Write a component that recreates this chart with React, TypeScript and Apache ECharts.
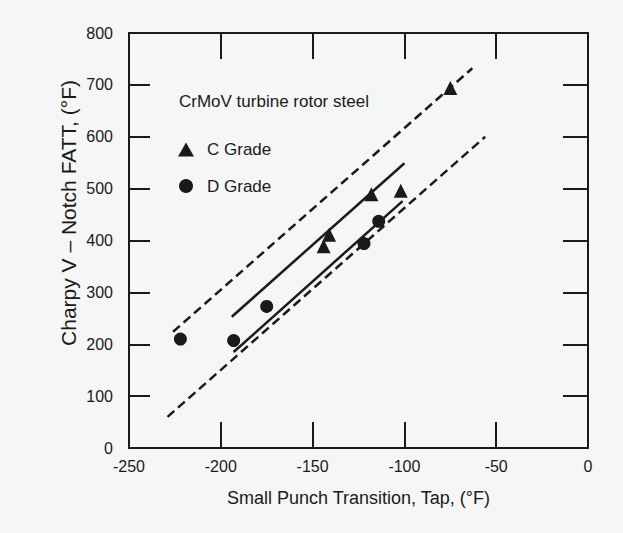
import React, { useEffect, useRef } from "react";
import * as echarts from "echarts";

const xTicks = [-250, -200, -150, -100, -50, 0];
const yTicks = [0, 100, 200, 300, 400, 500, 600, 700, 800];

const cGrade: [number, number][] = [
  [-75, 694],
  [-118, 489],
  [-102, 496],
  [-141, 411],
  [-144, 389],
];
const dGrade: [number, number][] = [
  [-222, 210],
  [-193, 207],
  [-175, 273],
  [-122, 394],
  [-114, 437],
];

const upperDashed: [number, number][] = [
  [-226, 224],
  [-63, 732],
];
const upperSolid: [number, number][] = [
  [-194, 253],
  [-100, 549],
];
const lowerSolid: [number, number][] = [
  [-193, 185],
  [-101, 476],
];
const lowerDashed: [number, number][] = [
  [-229, 60],
  [-56, 600],
];

const seriesNames = ["C Grade", "D Grade"];
const noteText = "CrMoV turbine rotor steel";
const xName = "Small Punch Transition, Tap, (°F)";
const yName = "Charpy V – Notch FATT, (°F)";

const FONT = "'Liberation Sans', Arial, Helvetica, sans-serif";
const INK = "#1a1a1a";

export default function App() {
  const ref = useRef<HTMLDivElement>(null);
  useEffect(() => {
    if (!ref.current) return;
    const chart = echarts.init(ref.current, null, { renderer: "svg" });
    const lineStyleAxis = { color: INK, width: 2 };
    const lineSeries = (data: [number, number][], dashed: boolean) => ({
      type: "line",
      data,
      showSymbol: false,
      symbol: "none",
      silent: true,
      lineStyle: {
        color: INK,
        width: 2.5,
        type: dashed ? [9, 5] : "solid",
      },
      z: 1,
    });
    chart.setOption({
      animation: false,
      backgroundColor: "#f6f6f6",
      textStyle: { fontFamily: FONT, color: INK },
      grid: { left: 129, right: 35, top: 33, bottom: 85, containLabel: false },
      graphic: [
        {
          type: "text",
          x: 179,
          y: 101,
          style: {
            text: noteText,
            fontSize: 17,
            fontFamily: FONT,
            fill: INK,
            align: "left",
            verticalAlign: "middle",
          },
        },
        {
          type: "text",
          x: 68,
          y: 213,
          rotation: Math.PI / 2,
          style: {
            text: yName,
            fontSize: 21,
            fontFamily: FONT,
            fill: INK,
            align: "center",
            verticalAlign: "middle",
          },
        },
      ],
      legend: {
        data: seriesNames,
        orient: "vertical",
        left: 173,
        top: 136,
        itemWidth: 16,
        itemHeight: 14,
        itemGap: 19.5,
        textStyle: { fontSize: 17, fontFamily: FONT, color: INK, padding: [0, 0, 0, 8] },
      },
      xAxis: [
        {
          type: "value",
          min: -250,
          max: 0,
          interval: 50,
          position: "bottom",
          name: xName,
          nameLocation: "middle",
          nameGap: 41,
          nameTextStyle: { fontSize: 18, fontFamily: FONT, color: INK },
          axisLine: { show: true, onZero: false, lineStyle: lineStyleAxis },
          axisTick: { show: true, inside: true, length: 26, lineStyle: lineStyleAxis },
          axisLabel: {
            fontSize: 16,
            fontFamily: FONT,
            color: INK,
            margin: 10,
            formatter: (v: number) => (xTicks.includes(v) ? String(v) : ""),
          },
          splitLine: { show: false },
        },
        {
          type: "value",
          min: -250,
          max: 0,
          interval: 50,
          position: "top",
          axisLine: { show: true, onZero: false, lineStyle: lineStyleAxis },
          axisTick: { show: true, inside: true, length: 26, lineStyle: lineStyleAxis },
          axisLabel: { show: false },
          splitLine: { show: false },
        },
      ],
      yAxis: [
        {
          type: "value",
          min: 0,
          max: 800,
          interval: 100,
          position: "left",
          axisLine: { show: true, onZero: false, lineStyle: lineStyleAxis },
          axisTick: { show: true, inside: true, length: 21, lineStyle: lineStyleAxis },
          axisLabel: {
            fontSize: 16,
            fontFamily: FONT,
            color: INK,
            margin: 16,
            formatter: (v: number) => (yTicks.includes(v) ? String(v) : ""),
          },
          splitLine: { show: false },
        },
        {
          type: "value",
          min: 0,
          max: 800,
          interval: 100,
          position: "right",
          axisLine: { show: true, onZero: false, lineStyle: lineStyleAxis },
          axisTick: { show: true, inside: true, length: 25, lineStyle: lineStyleAxis },
          axisLabel: { show: false },
          splitLine: { show: false },
        },
      ],
      series: [
        lineSeries(upperDashed, true),
        lineSeries(upperSolid, false),
        lineSeries(lowerSolid, false),
        lineSeries(lowerDashed, true),
        {
          name: seriesNames[0],
          type: "scatter",
          data: cGrade,
          symbol: "triangle",
          symbolSize: 14,
          itemStyle: { color: INK, opacity: 1 },
          z: 3,
        },
        {
          name: seriesNames[1],
          type: "scatter",
          data: dGrade,
          symbol: "circle",
          symbolSize: 13,
          itemStyle: { color: INK, opacity: 1 },
          z: 3,
        },
      ],
    });
    return () => chart.dispose();
  }, []);
  return (
    <div
      ref={ref}
      style={{ position: "fixed", left: 0, top: 0, width: 623, height: 533 }}
    />
  );
}
